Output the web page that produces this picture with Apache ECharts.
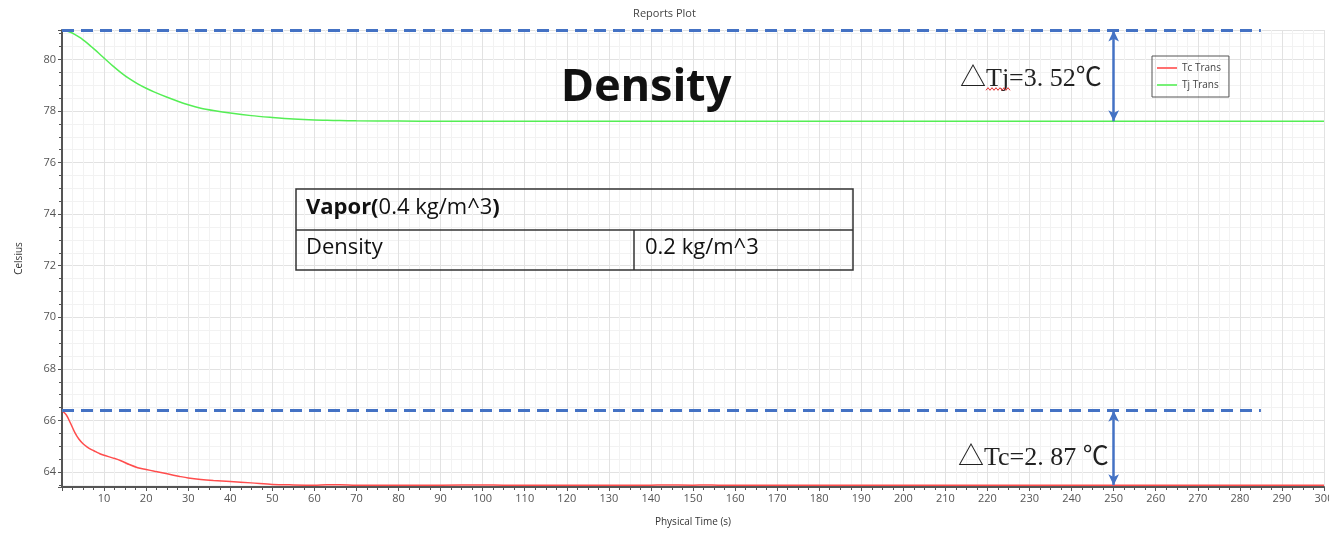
<!DOCTYPE html>
<html>
<head>
<meta charset="utf-8">
<script src="https://cdn.jsdelivr.net/npm/echarts@6/dist/echarts.min.js"></script>
<style>
html,body{margin:0;padding:0;background:#fff;}
#chart{width:1329px;height:535px;}
</style>
</head>
<body>
<div id="chart"></div>
<script>
// ---- data ----
var time = [0,1,2,3,4,5,6,7,8,9,10,12,14,16,18,20,22,25,28,30,33,36,40,45,50,55,60,63,66,70,80,90,100,105,110,120,130,140,143,150,153,156,160,170,180,190,200,210,220,230,240,250,260,270,280,290,300];
var tcTrans = [66.38,66.22,65.90,65.55,65.28,65.10,64.97,64.87,64.79,64.71,64.65,64.55,64.44,64.29,64.17,64.10,64.03,63.93,63.83,63.77,63.71,63.67,63.63,63.58,63.52,63.50,63.49,63.51,63.51,63.49,63.49,63.49,63.50,63.49,63.49,63.49,63.49,63.49,63.50,63.49,63.50,63.49,63.49,63.49,63.49,63.49,63.49,63.49,63.49,63.49,63.49,63.49,63.49,63.49,63.49,63.49,63.49];
var tjTrans = [81.12,81.10,81.05,80.97,80.87,80.76,80.63,80.49,80.35,80.20,80.05,79.76,79.49,79.25,79.05,78.88,78.73,78.53,78.35,78.24,78.11,78.02,77.92,77.82,77.75,77.69,77.65,77.64,77.63,77.62,77.61,77.60,77.60,77.60,77.60,77.60,77.60,77.60,77.60,77.60,77.60,77.60,77.60,77.60,77.60,77.60,77.60,77.60,77.60,77.60,77.60,77.60,77.60,77.60,77.60,77.60,77.60];
var seriesNames = ['Tc Trans','Tj Trans'];
var xRange = [0, 300];
var yRange = [63.42, 81.14];
var refLineEnd = 285;   // dashed reference lines end (s)
var arrowAt = 250;      // delta arrows at (s)
var deltaTj = '△Tj=3. 52℃';
var deltaTc = '△Tc=2. 87 ℃';
var bigTitle = 'Density';
var tableHeadBold1 = 'Vapor(', tableHeadNormal = '0.4 kg/m^3', tableHeadBold2 = ')';
var tableRowLabel = 'Density', tableRowValue = '0.2 kg/m^3';

function pairs(ys){ return time.map(function(t,i){ return [t, ys[i]]; }); }

var blue = '#4472C4';
var chart = echarts.init(document.getElementById('chart'));

function refMarks(startVal, endVal){
  return {
    silent: true, animation: false,
    label: {show: false},
    data: [
      [{coord:[xRange[0], startVal], symbol:'none', lineStyle:{type:[12,7], width:3, color:blue}},
       {coord:[refLineEnd, startVal], symbol:'none'}],
      [{coord:[arrowAt, startVal], symbol:'arrow', symbolSize:[8,11], lineStyle:{type:'solid', width:2.5, color:blue}},
       {coord:[arrowAt, endVal], symbol:'arrow', symbolSize:[8,11]}]
    ]
  };
}

var squiggle = [];
for (var i = 0; i <= 12; i++) squiggle.push([986 + i*2, 89 + (i%2 ? -1.3 : 1.3)]);

var fontText = 'Open Sans';
chart.setOption({
  animation: false,
  backgroundColor: '#ffffff',
  title: {
    text: 'Reports Plot', left: 'center', top: 3,
    textStyle: {fontFamily: fontText, fontSize: 11, fontWeight: 'normal', color: '#444'}
  },
  legend: {
    orient: 'vertical', left: 1152, top: 56,
    borderColor: '#555', borderWidth: 1,
    padding: [7, 8, 7, 5], itemGap: 7,
    itemWidth: 20, itemHeight: 2, icon: 'rect',
    textStyle: {fontFamily: fontText, fontSize: 10, color: '#444'},
    data: seriesNames
  },
  grid: {left: 62, right: 5, top: 30, bottom: 48, outerBoundsMode: 'none', containLabel: false},
  xAxis: {
    type: 'value', min: xRange[0], max: xRange[1], interval: 10,
    name: 'Physical Time (s)', nameLocation: 'middle', nameGap: 30,
    nameTextStyle: {fontFamily: fontText, fontSize: 10, color: '#333'},
    axisLine: {lineStyle: {color: '#555', width: 2}},
    axisTick: {length: 4, lineStyle: {color: '#555'}},
    minorTick: {show: true, splitNumber: 4, length: 3, lineStyle: {color: '#555'}},
    axisLabel: {fontFamily: fontText, fontSize: 11, color: '#555', margin: 6, hideOverlap: false,
      formatter: function(v){ return v === 0 ? '' : v; }},
    splitLine: {show: true, lineStyle: {color: '#e2e2e2', width: 1}},
    minorSplitLine: {show: true, lineStyle: {color: '#f2f2f2', width: 1}}
  },
  yAxis: {
    type: 'value', min: yRange[0], max: yRange[1], minInterval: 2, maxInterval: 2, splitNumber: 9,
    name: 'Celsius', nameLocation: 'middle', nameGap: 38, nameRotate: 90,
    nameTextStyle: {fontFamily: fontText, fontSize: 10, color: '#333'},
    axisLine: {show: true, lineStyle: {color: '#555', width: 2}},
    axisTick: {show: true, length: 4, lineStyle: {color: '#555'}},
    minorTick: {show: true, splitNumber: 4, length: 3, lineStyle: {color: '#555'}},
    axisLabel: {fontFamily: fontText, fontSize: 11, color: '#555', margin: 6, showMinLabel: false, showMaxLabel: false},
    splitLine: {show: true, lineStyle: {color: '#e2e2e2', width: 1}},
    minorSplitLine: {show: true, lineStyle: {color: '#f2f2f2', width: 1}}
  },
  series: [
    {
      name: seriesNames[0], type: 'line', data: pairs(tcTrans), showSymbol: false, smooth: 0.3,
      lineStyle: {color: '#ff4d4d', width: 1.5}, itemStyle: {color: '#ff7070'},
      markLine: refMarks(tcTrans[0], tcTrans[tcTrans.length-1])
    },
    {
      name: seriesNames[1], type: 'line', data: pairs(tjTrans), showSymbol: false, smooth: 0.3,
      lineStyle: {color: '#55ee55', width: 1.5}, itemStyle: {color: '#77f077'},
      markLine: refMarks(tjTrans[0], tjTrans[tjTrans.length-1])
    }
  ],
  graphic: [
    {type:'text', z: 100, left: 561, top: 66, style:{text: bigTitle, fontFamily:'Noto Sans', fontWeight:'bold', fontSize: 45, fill:'#111'}},
    {type:'text', z: 100, left: 960, top: 66, style:{text: deltaTj, fontFamily:'Liberation Serif, Noto Sans CJK SC', fontSize: 26, fill:'#222'}},
    {type:'polyline', z: 100, shape:{points: squiggle}, style:{stroke:'#e03030', lineWidth:1, fill:null}},
    {type:'text', z: 100, left: 958, top: 445, style:{text: deltaTc, fontFamily:'Liberation Serif, Noto Sans CJK SC', fontSize: 26, fill:'#222'}},
    {type:'rect', z: 100, shape:{x:296, y:189, width:557, height:81}, style:{fill:null, stroke:'#333', lineWidth:1.5}},
    {type:'line', z: 100, shape:{x1:296, y1:230, x2:853, y2:230}, style:{stroke:'#333', lineWidth:1.5}},
    {type:'line', z: 100, shape:{x1:634, y1:230, x2:634, y2:270}, style:{stroke:'#333', lineWidth:1.5}},
    {type:'text', z: 100, left: 306, top: 197, style:{
      text: '{b|' + tableHeadBold1 + '}{n|' + tableHeadNormal + '}{b|' + tableHeadBold2 + '}',
      rich: {
        b: {fontFamily: fontText, fontWeight:'bold', fontSize: 22, fill:'#111'},
        n: {fontFamily: fontText, fontSize: 22, fill:'#111'}
      }}},
    {type:'text', z: 100, left: 306, top: 237, style:{text: tableRowLabel, fontFamily: fontText, fontSize: 22, fill:'#111'}},
    {type:'text', z: 100, left: 645, top: 237, style:{text: tableRowValue, fontFamily: fontText, fontSize: 22, fill:'#111'}}
  ]
});
</script>
</body>
</html>
